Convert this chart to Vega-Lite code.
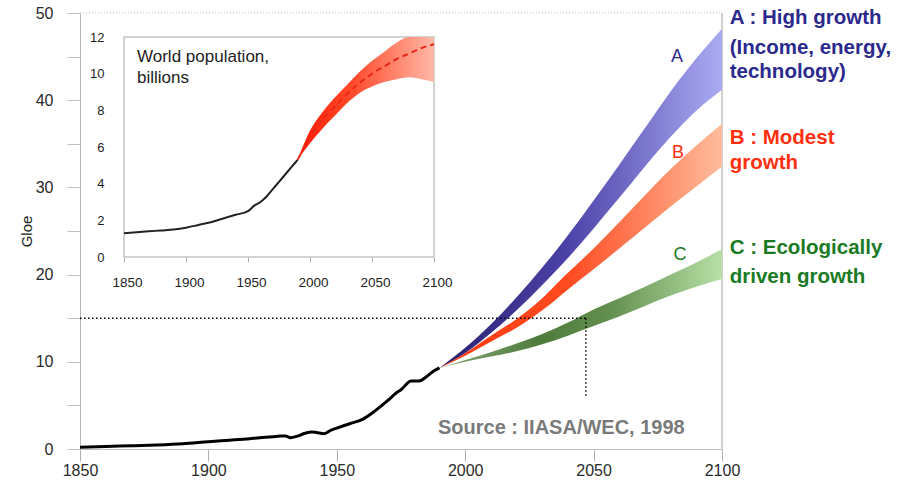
{
  "$schema": "https://vega.github.io/schema/vega-lite/v6.json",
  "width": 642,
  "height": 436,
  "autosize": "none",
  "padding": {"left": 80, "top": 13, "right": 185, "bottom": 39},
  "background": "white",
  "config": {"view": {"stroke": null}, "font": "Liberation Sans", "axis": {"grid": false}},
  "datasets": {
    "hist": [
      {"year": 1850, "value": 0.2}, {"year": 1860, "value": 0.3}, {"year": 1870, "value": 0.37},
      {"year": 1880, "value": 0.46}, {"year": 1890, "value": 0.6}, {"year": 1900, "value": 0.84},
      {"year": 1905, "value": 0.95}, {"year": 1910, "value": 1.05}, {"year": 1915, "value": 1.15},
      {"year": 1920, "value": 1.3}, {"year": 1925, "value": 1.4}, {"year": 1928, "value": 1.5},
      {"year": 1930, "value": 1.5}, {"year": 1932, "value": 1.3}, {"year": 1935, "value": 1.5},
      {"year": 1937, "value": 1.75}, {"year": 1940, "value": 1.95}, {"year": 1942, "value": 1.9},
      {"year": 1945, "value": 1.75}, {"year": 1948, "value": 2.2}, {"year": 1950, "value": 2.4},
      {"year": 1955, "value": 2.9}, {"year": 1960, "value": 3.4}, {"year": 1965, "value": 4.4},
      {"year": 1970, "value": 5.6}, {"year": 1973, "value": 6.4}, {"year": 1975, "value": 6.8},
      {"year": 1979, "value": 7.8}, {"year": 1982, "value": 7.8}, {"year": 1985, "value": 8.3},
      {"year": 1988, "value": 9.0}, {"year": 1990, "value": 9.3}
    ],
    "scen": [
      {"s": "A", "year": 1990, "lo": 9.3, "hi": 9.3}, {"s": "A", "year": 2000, "lo": 11.0, "hi": 11.6},
      {"s": "A", "year": 2010, "lo": 13.3, "hi": 14.3}, {"s": "A", "year": 2020, "lo": 15.9, "hi": 17.4},
      {"s": "A", "year": 2030, "lo": 18.8, "hi": 20.8}, {"s": "A", "year": 2040, "lo": 21.9, "hi": 24.5},
      {"s": "A", "year": 2050, "lo": 25.3, "hi": 28.5}, {"s": "A", "year": 2060, "lo": 28.8, "hi": 32.6},
      {"s": "A", "year": 2070, "lo": 32.4, "hi": 36.8}, {"s": "A", "year": 2080, "lo": 35.8, "hi": 41.0},
      {"s": "A", "year": 2090, "lo": 38.8, "hi": 44.8}, {"s": "A", "year": 2100, "lo": 41.2, "hi": 48.2},
      {"s": "B", "year": 1990, "lo": 9.3, "hi": 9.3}, {"s": "B", "year": 2000, "lo": 10.7, "hi": 11.0},
      {"s": "B", "year": 2010, "lo": 12.3, "hi": 13.0}, {"s": "B", "year": 2020, "lo": 13.9, "hi": 14.9},
      {"s": "B", "year": 2030, "lo": 15.9, "hi": 17.3}, {"s": "B", "year": 2040, "lo": 18.3, "hi": 20.2},
      {"s": "B", "year": 2050, "lo": 20.6, "hi": 23.0}, {"s": "B", "year": 2060, "lo": 23.0, "hi": 26.0},
      {"s": "B", "year": 2070, "lo": 25.4, "hi": 29.1}, {"s": "B", "year": 2080, "lo": 27.8, "hi": 32.1},
      {"s": "B", "year": 2090, "lo": 30.1, "hi": 34.8}, {"s": "B", "year": 2100, "lo": 32.4, "hi": 37.3},
      {"s": "C", "year": 1990, "lo": 9.3, "hi": 9.3}, {"s": "C", "year": 2000, "lo": 10.0, "hi": 10.2},
      {"s": "C", "year": 2010, "lo": 10.6, "hi": 11.1}, {"s": "C", "year": 2020, "lo": 11.2, "hi": 12.1},
      {"s": "C", "year": 2030, "lo": 12.0, "hi": 13.2}, {"s": "C", "year": 2040, "lo": 13.0, "hi": 14.5},
      {"s": "C", "year": 2050, "lo": 14.1, "hi": 16.0}, {"s": "C", "year": 2060, "lo": 15.2, "hi": 17.3},
      {"s": "C", "year": 2070, "lo": 16.4, "hi": 18.6}, {"s": "C", "year": 2080, "lo": 17.6, "hi": 20.0},
      {"s": "C", "year": 2090, "lo": 18.6, "hi": 21.4}, {"s": "C", "year": 2100, "lo": 19.5, "hi": 22.9}
    ],
    "letters": [
      {"grp": "A", "label": "A", "year": 2082.5, "value": 45.0},
      {"grp": "B", "label": "B", "year": 2082.9, "value": 33.9},
      {"grp": "C", "label": "C", "year": 2083.6, "value": 22.2}
    ],
    "notes": [
      {"grp": "A", "label": "A : High growth", "year": 2103, "value": 49.4},
      {"grp": "A", "label": "(Income, energy,", "year": 2103, "value": 46.0},
      {"grp": "A", "label": "technology)", "year": 2103, "value": 43.2},
      {"grp": "B", "label": "B : Modest", "year": 2103, "value": 35.7},
      {"grp": "B", "label": "growth", "year": 2103, "value": 32.8},
      {"grp": "C", "label": "C : Ecologically", "year": 2103, "value": 23.1},
      {"grp": "C", "label": "driven growth", "year": 2103, "value": 19.7}
    ],
    "source": [{"label": "Source : IIASA/WEC, 1998", "year": 1989.4, "value": 2.4}],
    "pop": [
      {"year": 1850, "pop": 1.3}, {"year": 1860, "pop": 1.35}, {"year": 1870, "pop": 1.4},
      {"year": 1880, "pop": 1.45}, {"year": 1890, "pop": 1.5}, {"year": 1900, "pop": 1.6},
      {"year": 1910, "pop": 1.75}, {"year": 1920, "pop": 1.9}, {"year": 1930, "pop": 2.1},
      {"year": 1940, "pop": 2.3}, {"year": 1950, "pop": 2.5}, {"year": 1955, "pop": 2.8},
      {"year": 1960, "pop": 3.0}, {"year": 1965, "pop": 3.3}, {"year": 1970, "pop": 3.7},
      {"year": 1975, "pop": 4.1}, {"year": 1980, "pop": 4.5}, {"year": 1985, "pop": 4.9},
      {"year": 1990, "pop": 5.3}
    ],
    "popband": [
      {"year": 1990, "lo": 5.3, "mid": 5.3, "hi": 5.3},
      {"year": 2000, "lo": 6.2, "mid": 6.5, "hi": 6.9},
      {"year": 2010, "lo": 7.0, "mid": 7.5, "hi": 7.9},
      {"year": 2020, "lo": 7.7, "mid": 8.2, "hi": 8.7},
      {"year": 2030, "lo": 8.4, "mid": 8.9, "hi": 9.4},
      {"year": 2040, "lo": 8.95, "mid": 9.5, "hi": 10.1},
      {"year": 2050, "lo": 9.3, "mid": 10.0, "hi": 10.7},
      {"year": 2060, "lo": 9.55, "mid": 10.4, "hi": 11.2},
      {"year": 2070, "lo": 9.7, "mid": 10.8, "hi": 11.7},
      {"year": 2080, "lo": 9.8, "mid": 11.1, "hi": 12.0},
      {"year": 2090, "lo": 9.7, "mid": 11.4, "hi": 12.0},
      {"year": 2100, "lo": 9.55, "mid": 11.6, "hi": 11.95}
    ],
    "insetText": [
      {"label": "World population,", "year": 1860.5, "pop": 10.9},
      {"label": "billions", "year": 1860.5, "pop": 9.75}
    ]
  },
  "layer": [
    {
      "layer": [
        {
          "data": {"name": "hist"},
          "mark": {"type": "line", "color": "#000000", "strokeWidth": 3, "interpolate": "monotone"},
          "encoding": {
            "x": {"field": "year", "type": "quantitative",
              "scale": {"domain": [1850, 2100], "nice": false, "zero": false},
              "axis": {"title": null, "values": [1850, 1900, 1950, 2000, 2050, 2100], "format": "d",
                "labelFontSize": 16, "labelColor": "#2a2a2a", "tickSize": 12, "tickColor": "#b0b0b0",
                "domainColor": "#c0c0c0", "labelPadding": 1, "labelFlush": false}},
            "y": {"field": "value", "type": "quantitative",
              "scale": {"domain": [0, 50], "nice": false},
              "axis": {"title": "Gloe", "values": [0, 5, 10, 15, 20, 25, 30, 35, 40, 45, 50],
                "labelExpr": "datum.value % 10 === 0 ? datum.label : ''",
                "labelFontSize": 16, "labelColor": "#2a2a2a", "tickSize": 13, "tickColor": "#c0c0c0",
                "domainColor": "#b8b8b8", "labelPadding": 14, "labelFlush": false, "titleFontSize": 15,
                "titleFontWeight": "normal", "titleColor": "#222", "titlePadding": 1}}
          }
        },
        {
          "mark": {"type": "rule", "color": "#c0c0c0", "strokeWidth": 1.5},
          "encoding": {"x": {"datum": 2100, "type": "quantitative"}, "y": {"datum": 0, "type": "quantitative"}, "y2": {"datum": 50}}
        },
        {
          "mark": {"type": "rule", "color": "#b8b8b8", "strokeDash": [1, 2]},
          "encoding": {"x": {"datum": 1850, "type": "quantitative"}, "x2": {"datum": 2100}, "y": {"datum": 50, "type": "quantitative"}}
        },
        {
          "data": {"name": "scen"},
          "transform": [{"filter": "datum.s === 'A'"}],
          "mark": {"type": "area", "interpolate": "monotone",
            "color": {"gradient": "linear", "x1": 0, "y1": 0, "x2": 1, "y2": 0,
              "stops": [{"offset": 0, "color": "#2a2070"}, {"offset": 0.45, "color": "#4b42a8"}, {"offset": 1, "color": "#aaaaf2"}]}},
          "encoding": {
            "x": {"field": "year", "type": "quantitative"},
            "y": {"field": "lo", "type": "quantitative"},
            "y2": {"field": "hi"}
          }
        },
        {
          "data": {"name": "scen"},
          "transform": [{"filter": "datum.s === 'B'"}],
          "mark": {"type": "area", "interpolate": "monotone",
            "color": {"gradient": "linear", "x1": 0, "y1": 0, "x2": 1, "y2": 0,
              "stops": [{"offset": 0, "color": "#ff3a10"}, {"offset": 0.45, "color": "#ff4a20"}, {"offset": 1, "color": "#ffbc9c"}]}},
          "encoding": {
            "x": {"field": "year", "type": "quantitative"},
            "y": {"field": "lo", "type": "quantitative"},
            "y2": {"field": "hi"}
          }
        },
        {
          "data": {"name": "scen"},
          "transform": [{"filter": "datum.s === 'C'"}],
          "mark": {"type": "area", "interpolate": "monotone",
            "color": {"gradient": "linear", "x1": 0, "y1": 0, "x2": 1, "y2": 0,
              "stops": [{"offset": 0, "color": "#8aa87a"}, {"offset": 0.35, "color": "#4e7c3c"}, {"offset": 0.6, "color": "#628f4e"}, {"offset": 1, "color": "#b8e0a6"}]}},
          "encoding": {
            "x": {"field": "year", "type": "quantitative"},
            "y": {"field": "lo", "type": "quantitative"},
            "y2": {"field": "hi"}
          }
        },
        {
          "mark": {"type": "rule", "color": "#000000", "strokeDash": [1.5, 2.5], "strokeWidth": 1.5},
          "encoding": {"x": {"datum": 1850, "type": "quantitative"}, "x2": {"datum": 2047}, "y": {"datum": 15, "type": "quantitative"}}
        },
        {
          "mark": {"type": "rule", "color": "#000000", "strokeDash": [1.5, 2.5], "strokeWidth": 1.5},
          "encoding": {"x": {"datum": 2047, "type": "quantitative"}, "y": {"datum": 15, "type": "quantitative"}, "y2": {"datum": 6}}
        },
        {
          "data": {"name": "letters"},
          "mark": {"type": "text", "fontSize": 18, "align": "center", "baseline": "middle"},
          "encoding": {
            "x": {"field": "year", "type": "quantitative"},
            "y": {"field": "value", "type": "quantitative"},
            "text": {"field": "label"},
            "color": {"field": "grp", "type": "nominal", "legend": null,
              "scale": {"domain": ["A", "B", "C"], "range": ["#2b2a8c", "#ff3010", "#1a7a24"]}}
          }
        },
        {
          "data": {"name": "notes"},
          "mark": {"type": "text", "fontSize": 20.5, "fontWeight": "bold", "letterSpacing": 2, "align": "left", "baseline": "middle"},
          "encoding": {
            "x": {"field": "year", "type": "quantitative"},
            "y": {"field": "value", "type": "quantitative"},
            "text": {"field": "label"},
            "color": {"field": "grp", "type": "nominal", "legend": null}
          }
        },
        {
          "data": {"name": "source"},
          "mark": {"type": "text", "fontSize": 20, "fontWeight": "bold", "align": "left", "baseline": "middle", "color": "#7a7a7a"},
          "encoding": {
            "x": {"field": "year", "type": "quantitative"},
            "y": {"field": "value", "type": "quantitative"},
            "text": {"field": "label"}
          }
        }
      ]
    },
    {
      "layer": [
        {
          "mark": {"type": "rect", "fill": "white", "stroke": "#c4c4c4", "strokeWidth": 1.5},
          "encoding": {
            "x": {"datum": 1850, "type": "quantitative",
              "scale": {"domain": [1850, 2100], "range": [44, 354], "nice": false, "zero": false},
              "axis": {"title": null, "orient": "bottom", "offset": -192, "values": [1850, 1900, 1950, 2000, 2050, 2100],
                "format": "d", "labelFontSize": 13.5, "labelColor": "#222", "tickSize": 5, "tickColor": "#b0b0b0",
                "domain": false, "labelPadding": 13, "labelFlush": false, "labelOffset": 3}},
            "x2": {"datum": 2100},
            "y": {"datum": 0, "type": "quantitative",
              "scale": {"domain": [0, 12], "range": [244, 24], "nice": false, "zero": false},
              "axis": {"title": null, "orient": "left", "offset": -42, "values": [0, 2, 4, 6, 8, 10, 12],
                "labelFontSize": 13, "labelColor": "#222", "ticks": false, "domain": false, "labelPadding": 18, "labelFlush": false}},
            "y2": {"datum": 12}
          }
        },
        {
          "data": {"name": "popband"},
          "mark": {"type": "area", "interpolate": "monotone",
            "color": {"gradient": "linear", "x1": 0, "y1": 0, "x2": 1, "y2": 0,
              "stops": [{"offset": 0, "color": "#ff1a00"}, {"offset": 0.4, "color": "#ff4a2a"}, {"offset": 1, "color": "#ffb8a8"}]}},
          "encoding": {
            "x": {"field": "year", "type": "quantitative", "scale": {"domain": [1850, 2100], "range": [44, 354], "nice": false, "zero": false}},
            "y": {"field": "lo", "type": "quantitative", "scale": {"domain": [0, 12], "range": [244, 24], "nice": false, "zero": false}},
            "y2": {"field": "hi"}
          }
        },
        {
          "data": {"name": "popband"},
          "mark": {"type": "line", "interpolate": "monotone", "color": "#e8281a", "strokeWidth": 2, "strokeDash": [6, 4]},
          "encoding": {
            "x": {"field": "year", "type": "quantitative", "scale": {"domain": [1850, 2100], "range": [44, 354], "nice": false, "zero": false}},
            "y": {"field": "mid", "type": "quantitative", "scale": {"domain": [0, 12], "range": [244, 24], "nice": false, "zero": false}}
          }
        },
        {
          "data": {"name": "pop"},
          "mark": {"type": "line", "interpolate": "monotone", "color": "#222222", "strokeWidth": 2},
          "encoding": {
            "x": {"field": "year", "type": "quantitative", "scale": {"domain": [1850, 2100], "range": [44, 354], "nice": false, "zero": false}},
            "y": {"field": "pop", "type": "quantitative", "scale": {"domain": [0, 12], "range": [244, 24], "nice": false, "zero": false}}
          }
        },
        {
          "data": {"name": "insetText"},
          "mark": {"type": "text", "fontSize": 17, "align": "left", "baseline": "middle", "color": "#222"},
          "encoding": {
            "x": {"field": "year", "type": "quantitative", "scale": {"domain": [1850, 2100], "range": [44, 354], "nice": false, "zero": false}},
            "y": {"field": "pop", "type": "quantitative", "scale": {"domain": [0, 12], "range": [244, 24], "nice": false, "zero": false}},
            "text": {"field": "label"}
          }
        }
      ]
    }
  ],
  "resolve": {"scale": {"x": "independent", "y": "independent"}, "axis": {"x": "independent", "y": "independent"}}
}
